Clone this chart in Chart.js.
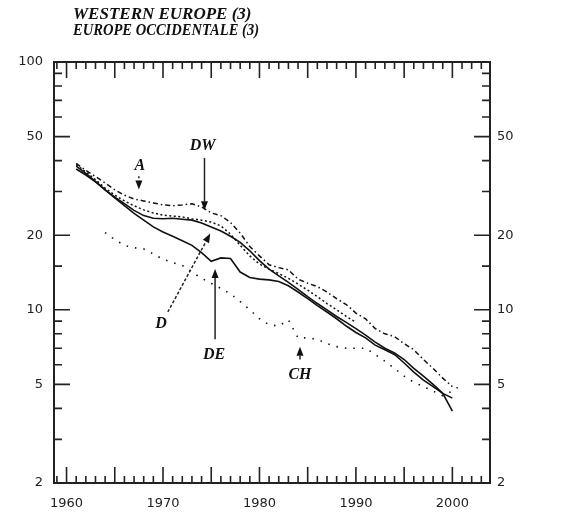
<!DOCTYPE html>
<html>
<head>
<meta charset="utf-8">
<script src="https://cdn.jsdelivr.net/npm/chart.js@4/dist/chart.umd.min.js"></script>
<style>
  html, body { margin: 0; padding: 0; background: #fff; }
  #wrap { width: 584px; height: 520px; }
</style>
</head>
<body>
<div id="wrap"><canvas id="chart" width="584" height="520"></canvas></div>
<script>
// values (index per year)
const years = [1961, 1962, 1963, 1964, 1965, 1966, 1967, 1968, 1969, 1970,
  1971, 1972, 1973, 1974, 1975, 1976, 1977, 1978, 1979, 1980,
  1981, 1982, 1983, 1984, 1985, 1986, 1987, 1988, 1989, 1990,
  1991, 1992, 1993, 1994, 1995, 1996, 1997, 1998, 1999, 2000, 2001];

const valuesA = [39, 36.5, 34.5, 32.5, 30.5, 29, 28, 27.5, 27, 26.5,
  26.3, 26.5, 26.8, 26, 24.6, 24, 22.5, 20.4, 18, 16.5,
  15.2, 14.8, 14.5, 13.3, 12.8, 12.4, 11.8, 11.1, 10.5, 9.7,
  9.2, 8.4, 8.0, 7.8, 7.3, 6.9, 6.3, 5.8, 5.3, 4.9, null];

const valuesDW = [38.5, 36, 33.5, 31, 29, 27.5, 26.3, 25.3, 24.6, 24.1,
  23.9, 23.7, 23.3, 23, 22.6, 21.8, 20.2, 18.2, 16.5, 15.3,
  14.6, 14, 13.4, 12.7, 12.0, 11.3, 10.6, 10.0, 9.4, 8.9,
  null, null, null, null, null, null, null, null, null, null, null];

const valuesD = [38, 35.5, 33, 30.5, 28.5, 26.8, 25.2, 24, 23.4, 23.3,
  23.4, 23.2, 23, 22.4, 21.6, 20.8, 19.8, 18.7, 17.3, 15.8,
  14.6, 13.7, 12.9, 12.1, 11.3, 10.6, 10.0, 9.4, 8.9, 8.4,
  7.9, 7.4, 7.0, 6.7, 6.3, 5.8, 5.4, 5.0, 4.6, 3.9, null];

const valuesDE = [37, 35, 32.8, 30.5, 28.3, 26.3, 24.5, 23, 21.6, 20.6,
  19.8, 19, 18.2, 17, 15.7, 16.2, 16.1, 14.2, 13.5, 13.3,
  13.2, 13, 12.5, 11.8, 11.1, 10.4, 9.8, 9.2, 8.6, 8.1,
  7.7, 7.2, 6.9, 6.6, 6.1, 5.6, 5.2, 4.9, 4.6, 4.4, null];

const valuesCH = [null, null, null, 20.5, 19.2, 18.2, 17.8, 17.6, 16.8, 16,
  15.5, 15.1, 14.2, 13.4, 12.8, 12.2, 11.6, 10.8, 10, 9.2,
  8.7, 8.6, 9.1, 7.7, 7.7, 7.6, 7.3, 7.1, 7.0, 7.0,
  7.0, 6.6, 6.2, 5.8, 5.4, 5.1, 4.9, 4.7, 4.5, 4.7, 5.0];

const leftTickLabels = [2, 5, 10, 20, 50, 100];
const rightTickLabels = [2, 5, 10, 20, 50];
const minorTicks = [3, 4, 6, 7, 8, 9, 15, 30, 40, 60, 70, 80, 90];
const xTickLabels = [1960, 1970, 1980, 1990, 2000];

const titleLines = ['WESTERN EUROPE (3)', 'EUROPE OCCIDENTALE (3)'];

function toPoints(vals) {
  return years.map((x, i) => ({ x: x, y: vals[i] })).filter(p => p.y !== null);
}

function line(label, vals, dash, width) {
  return {
    label: label,
    data: toPoints(vals),
    borderColor: '#111',
    borderWidth: width,
    borderDash: dash,
    pointRadius: 0,
    tension: 0,
    fill: false,
    yAxisID: 'y'
  };
}

// text notes and arrows, given in data units
const notes = [
  { text: 'DW', x: 1974.1, y: 46 },
  { text: 'A', x: 1967.6, y: 38 },
  { text: 'D', x: 1969.8, y: 8.8 },
  { text: 'DE', x: 1975.3, y: 6.6 },
  { text: 'CH', x: 1984.2, y: 5.45 }
];
const arrows = [
  { from: [1974.3, 41], to: [1974.3, 25.2], dash: [] },
  { from: [1967.5, 34.6], to: [1967.5, 30.6], dash: [2, 2] },
  { from: [1970.5, 9.8], to: [1974.9, 20.3], dash: [3, 2] },
  { from: [1975.4, 7.6], to: [1975.4, 14.6], dash: [] },
  { from: [1984.2, 6.3], to: [1984.2, 7.1], dash: [] }
];

const framePlugin = {
  id: 'frame',
  afterDraw(chart) {
    const ctx = chart.ctx;
    const a = chart.chartArea;
    const xs = chart.scales.x;
    const ys = chart.scales.y;
    ctx.save();
    ctx.strokeStyle = '#222';
    ctx.lineWidth = 2;
    ctx.strokeRect(a.left, a.top, a.right - a.left, a.bottom - a.top);

    // inward tick marks
    ctx.lineWidth = 1.6;
    ctx.beginPath();
    leftTickLabels.concat(minorTicks).forEach(v => {
      const py = ys.getPixelForValue(v);
      const len = leftTickLabels.includes(v) ? 16 : 8;
      ctx.moveTo(a.left, py); ctx.lineTo(a.left + len, py);
      const rlen = rightTickLabels.includes(v) ? 16 : 8;
      ctx.moveTo(a.right, py); ctx.lineTo(a.right - rlen, py);
    });
    for (let yr = 1959; yr <= 2003; yr++) {
      const px = xs.getPixelForValue(yr);
      const len = yr % 5 === 0 ? 16 : 7;
      ctx.moveTo(px, a.bottom); ctx.lineTo(px, a.bottom - len);
      ctx.moveTo(px, a.top); ctx.lineTo(px, a.top + len);
    }
    ctx.stroke();

    // title (condensed like the print)
    ctx.fillStyle = '#111';
    ctx.font = 'bold italic 17px "Liberation Serif"';
    ctx.textAlign = 'left';
    ctx.textBaseline = 'middle';
    ctx.fillText(titleLines[0], 73, 15, 180);
    ctx.fillText(titleLines[1], 73, 31, 186);

    // notes
    ctx.font = 'bold italic 16px "Liberation Serif"';
    ctx.textAlign = 'center';
    notes.forEach(n => {
      ctx.fillText(n.text, xs.getPixelForValue(n.x), ys.getPixelForValue(n.y));
    });

    // arrows
    arrows.forEach(ar => {
      const x1 = xs.getPixelForValue(ar.from[0]), y1 = ys.getPixelForValue(ar.from[1]);
      const x2 = xs.getPixelForValue(ar.to[0]), y2 = ys.getPixelForValue(ar.to[1]);
      const ang = Math.atan2(y2 - y1, x2 - x1);
      const hl = 9, hw = 3.5;
      const bx = x2 - hl * Math.cos(ang), by = y2 - hl * Math.sin(ang);
      ctx.lineWidth = 1.5;
      ctx.setLineDash(ar.dash);
      ctx.beginPath();
      ctx.moveTo(x1, y1); ctx.lineTo(bx, by);
      ctx.stroke();
      ctx.setLineDash([]);
      ctx.beginPath();
      ctx.moveTo(x2, y2);
      ctx.lineTo(bx + hw * Math.sin(ang), by - hw * Math.cos(ang));
      ctx.lineTo(bx - hw * Math.sin(ang), by + hw * Math.cos(ang));
      ctx.closePath();
      ctx.fill();
    });
    ctx.restore();
  }
};

const tickFont = { family: '"DejaVu Sans"', size: 13 };

new Chart(document.getElementById('chart'), {
  type: 'line',
  data: {
    datasets: [
      line('A', valuesA, [5, 3, 1.5, 3], 1.5),
      line('DW', valuesDW, [2, 2.5], 1.5),
      line('D', valuesD, [], 1.6),
      line('DE', valuesDE, [], 1.6),
      line('CH', valuesCH, [1.5, 7], 1.6)
    ]
  },
  options: {
    responsive: false,
    animation: false,
    layout: { padding: { top: 62, left: 0, right: 0, bottom: 0 } },
    plugins: {
      legend: { display: false },
      title: { display: false },
      tooltip: { enabled: false }
    },
    scales: {
      x: {
        type: 'linear',
        position: 'bottom',
        min: 1958.7,
        max: 2003.9,
        grid: { display: false, drawTicks: false },
        border: { display: false },
        afterFit(s) { s.height = 37; },
        afterBuildTicks(s) { s.ticks = xTickLabels.map(v => ({ value: v })); },
        ticks: {
          color: '#222',
          font: tickFont,
          padding: 13,
          maxRotation: 0,
          autoSkip: false,
          callback: v => String(v)
        }
      },
      y: {
        type: 'logarithmic',
        position: 'left',
        min: 2,
        max: 100,
        grid: { display: false, drawTicks: false },
        border: { display: false },
        afterFit(s) { s.width = 54; },
        afterBuildTicks(s) { s.ticks = leftTickLabels.map(v => ({ value: v })); },
        ticks: {
          color: '#222',
          font: tickFont,
          padding: 11,
          autoSkip: false,
          callback: v => String(v)
        }
      },
      y2: {
        type: 'logarithmic',
        position: 'right',
        min: 2,
        max: 100,
        grid: { display: false, drawTicks: false },
        border: { display: false },
        afterFit(s) { s.width = 94; },
        afterBuildTicks(s) { s.ticks = rightTickLabels.map(v => ({ value: v })); },
        ticks: {
          color: '#222',
          font: tickFont,
          padding: 7,
          autoSkip: false,
          callback: v => String(v)
        }
      }
    }
  },
  plugins: [framePlugin]
});
</script>
</body>
</html>
